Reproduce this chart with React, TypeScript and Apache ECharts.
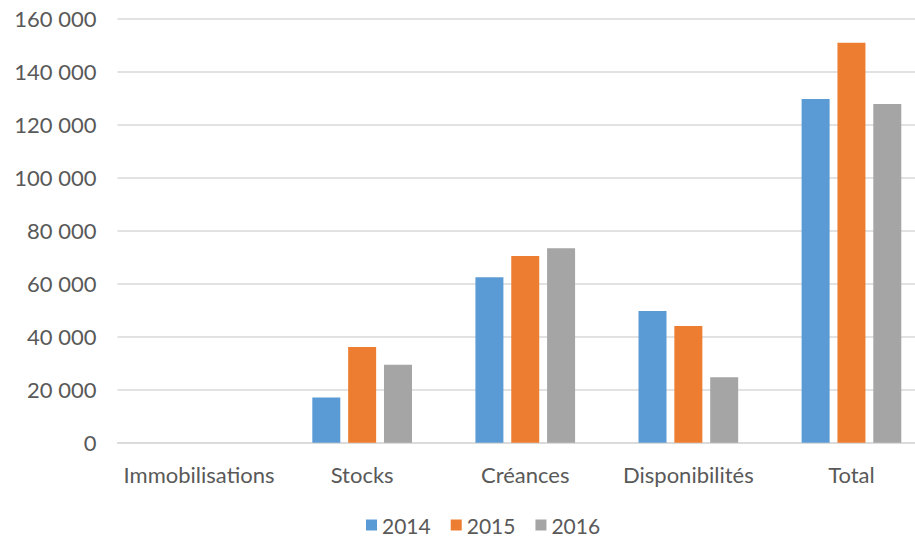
import React, { useEffect, useRef } from "react";
import * as echarts from "echarts";

const categories = ["Immobilisations", "Stocks", "Créances", "Disponibilités", "Total"];
const years = ["2014", "2015", "2016"];
const values2014 = [0, 17100, 62400, 49700, 129700];
const values2015 = [0, 36100, 70500, 44000, 150900];
const values2016 = [0, 29400, 73400, 24700, 127800];
const colors = ["#5B9BD5", "#ED7D31", "#A5A5A5"];

const FONT = "Lato, 'Open Sans', sans-serif";

export default function App() {
  const ref = useRef<HTMLDivElement>(null);
  useEffect(() => {
    if (!ref.current) return;
    document.body.style.overflow = "hidden";
    const chart = echarts.init(ref.current, undefined, { renderer: "svg" });
    const fmt = (v: number) => String(v).replace(/\B(?=(\d{3})+(?!\d))/g, " ");
    const seriesData = [values2014, values2015, values2016];
    chart.setOption({
      animation: false,
      textStyle: { fontFamily: FONT },
      grid: { left: 117.5, right: 0, top: 18.7, bottom: 96.3, containLabel: false },
      legend: {
        data: years,
        top: 513,
        left: 366,
        padding: 0,
        itemWidth: 11,
        itemHeight: 11,
        itemGap: 20,
        icon: "rect",
        textStyle: { color: "#595959", fontSize: 21, fontFamily: FONT, lineHeight: 24 },
      },
      xAxis: {
        type: "category",
        data: categories,
        axisLine: { lineStyle: { color: "#D9D9D9", width: 1.5 } },
        axisTick: { show: false },
        axisLabel: { color: "#595959", fontSize: 22, margin: 21, fontFamily: FONT, interval: 0 },
      },
      yAxis: {
        type: "value",
        min: 0,
        max: 160000,
        interval: 20000,
        axisLine: { show: false },
        axisTick: { show: false },
        splitLine: { lineStyle: { color: "#D9D9D9", width: 1.5 } },
        axisLabel: { color: "#595959", fontSize: 22, margin: 21, fontFamily: FONT, formatter: fmt },
      },
      series: years.map((y, i) => ({
        name: y,
        type: "bar",
        data: seriesData[i],
        barWidth: 28,
        barGap: "28%",
        itemStyle: { color: colors[i] },
      })),
    });
    return () => chart.dispose();
  }, []);
  return (
    <div style={{ position: "absolute", left: 0, top: 0, width: 915, height: 539, overflow: "hidden" }}>
      <div ref={ref} style={{ width: 933, height: 539 }} />
    </div>
  );
}
